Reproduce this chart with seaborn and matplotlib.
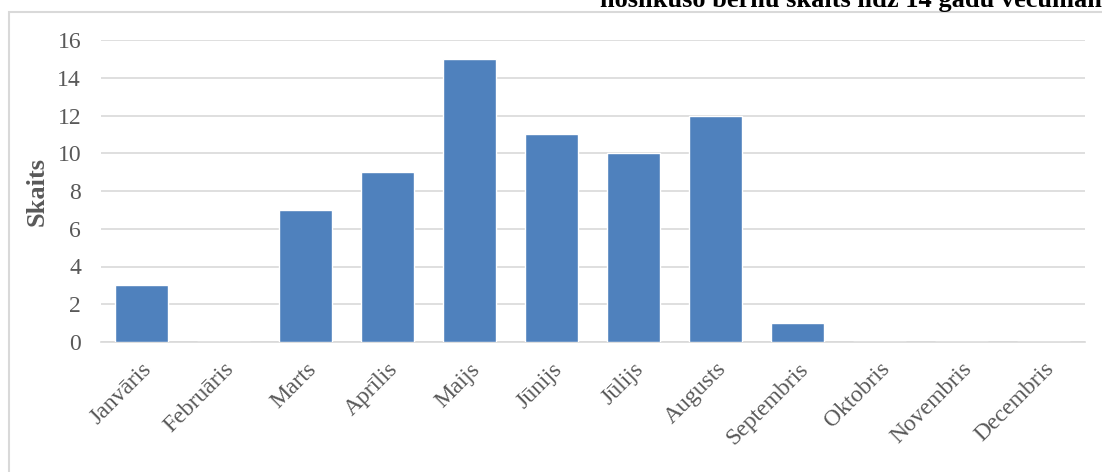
import matplotlib
matplotlib.use("Agg")
import matplotlib.pyplot as plt
import seaborn as sns
import pandas as pd
from matplotlib.patches import Rectangle

months = ["Janvāris", "Februāris", "Marts", "Aprīlis", "Maijs", "Jūnijs",
          "Jūlijs", "Augusts", "Septembris", "Oktobris", "Novembris", "Decembris"]
counts = [3, 0, 7, 9, 15, 11, 10, 12, 1, 0, 0, 0]
y_ticks = [0, 2, 4, 6, 8, 10, 12, 14, 16]
title_text = "noslīkušo bērnu skaits līdz 14 gadu vecumam"
y_label = "Skaits"

sns.set_theme(style="white")
plt.rcParams['font.family'] = ['Liberation Serif', 'DejaVu Serif']

df = pd.DataFrame({"month": months, "count": counts})

fig = plt.figure(figsize=(11.02, 4.72), dpi=100)
ax = fig.add_axes([100.5 / 1102, 1 - 342 / 472, 984 / 1102, 302 / 472])

sns.barplot(data=df, x="month", y="count", color="#4F81BD", saturation=1,
            width=0.646, ax=ax, zorder=3)

ax.set_ylim(0, 16)
ax.set_xlim(-0.5, 11.5)
ax.set_yticks(y_ticks)
ax.set_yticklabels([str(t) for t in y_ticks], fontsize=17, color="#595959")
ax.yaxis.grid(True, color="#D9D9D9", linewidth=1.2, zorder=0)
ax.xaxis.grid(False)
for s in ["top", "right", "left"]:
    ax.spines[s].set_visible(False)
ax.spines["bottom"].set_color("#D9D9D9")
ax.spines["bottom"].set_linewidth(1.2)
ax.tick_params(axis="both", length=0)
ax.tick_params(axis="y", pad=14)
ax.set_xticks(range(len(months)))
ax.set_xticklabels(months, rotation=45, ha="right", rotation_mode="anchor",
                   fontsize=17, color="#595959")
ax.tick_params(axis="x", pad=12)
ax.set_xlabel("")
ax.set_ylabel(y_label, fontsize=19, fontweight="bold", color="#595959", labelpad=6)

fig.patches.append(Rectangle((9 / 1102, -0.2), 1.2, 1.2 - 12 / 472 + 0.0,
                             transform=fig.transFigure, fill=False,
                             edgecolor="#D9D9D9", linewidth=1.5))

fig.text(600 / 1102, 1 - 7 / 472, title_text, fontsize=19, fontweight="bold",
         color="#000000", ha="left", va="baseline")

fig.savefig("out.png", dpi=100)
